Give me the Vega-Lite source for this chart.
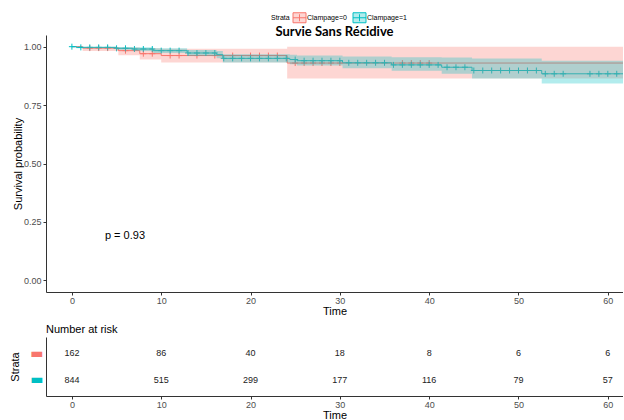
{
  "$schema": "https://vega.github.io/schema/vega-lite/v6.json",
  "padding": {"left": 9, "top": 12, "right": 0, "bottom": 0},
  "background": "white",
  "spacing": 8,
  "config": {
    "view": {"stroke": null},
    "font": "Liberation Sans",
    "axis": {"grid": false, "domainColor": "#333333", "tickColor": "#333333", "labelColor": "#4d4d4d", "labelFontSize": 9, "titleFontSize": 11, "titleFontWeight": "normal", "titleColor": "#000000", "tickSize": 3, "labelPadding": 2, "domainWidth": 1},
    "axisX": {"labelPadding": 1, "titlePadding": 0}
  },
  "datasets": {
    "km": [
      {"strata": "Clampage=0", "time": 0, "surv": 1.0, "lower": 1.0, "upper": 1.0},
      {"strata": "Clampage=0", "time": 1.2, "surv": 0.994, "lower": 0.982, "upper": 0.999},
      {"strata": "Clampage=0", "time": 5.2, "surv": 0.983, "lower": 0.963, "upper": 0.996},
      {"strata": "Clampage=0", "time": 7.6, "surv": 0.970, "lower": 0.945, "upper": 0.993},
      {"strata": "Clampage=0", "time": 10, "surv": 0.962, "lower": 0.932, "upper": 0.991},
      {"strata": "Clampage=0", "time": 24.1, "surv": 0.930, "lower": 0.864, "upper": 1.0},
      {"strata": "Clampage=0", "time": 62, "surv": 0.930, "lower": 0.864, "upper": 1.0},
      {"strata": "Clampage=1", "time": 0, "surv": 1.0, "lower": 1.0, "upper": 1.0},
      {"strata": "Clampage=1", "time": 0.5, "surv": 0.997, "lower": 0.993, "upper": 1.0},
      {"strata": "Clampage=1", "time": 5, "surv": 0.993, "lower": 0.987, "upper": 0.999},
      {"strata": "Clampage=1", "time": 6.8, "surv": 0.990, "lower": 0.982, "upper": 0.998},
      {"strata": "Clampage=1", "time": 9.1, "surv": 0.983, "lower": 0.973, "upper": 0.993},
      {"strata": "Clampage=1", "time": 12.9, "surv": 0.973, "lower": 0.960, "upper": 0.986},
      {"strata": "Clampage=1", "time": 16.2, "surv": 0.966, "lower": 0.951, "upper": 0.981},
      {"strata": "Clampage=1", "time": 16.9, "surv": 0.950, "lower": 0.932, "upper": 0.968},
      {"strata": "Clampage=1", "time": 24.4, "surv": 0.945, "lower": 0.925, "upper": 0.965},
      {"strata": "Clampage=1", "time": 25.2, "surv": 0.940, "lower": 0.919, "upper": 0.962},
      {"strata": "Clampage=1", "time": 30.3, "surv": 0.931, "lower": 0.908, "upper": 0.958},
      {"strata": "Clampage=1", "time": 35.8, "surv": 0.922, "lower": 0.897, "upper": 0.955},
      {"strata": "Clampage=1", "time": 41.4, "surv": 0.912, "lower": 0.884, "upper": 0.954},
      {"strata": "Clampage=1", "time": 44.8, "surv": 0.898, "lower": 0.864, "upper": 0.949},
      {"strata": "Clampage=1", "time": 52.6, "surv": 0.884, "lower": 0.842, "upper": 0.940},
      {"strata": "Clampage=1", "time": 62, "surv": 0.884, "lower": 0.842, "upper": 0.940}
    ],
    "censor": [
      {"strata": "Clampage=0", "time": 2, "surv": 0.994},
      {"strata": "Clampage=0", "time": 3, "surv": 0.994},
      {"strata": "Clampage=0", "time": 4, "surv": 0.994},
      {"strata": "Clampage=0", "time": 6, "surv": 0.983},
      {"strata": "Clampage=0", "time": 8, "surv": 0.970},
      {"strata": "Clampage=0", "time": 9, "surv": 0.970},
      {"strata": "Clampage=0", "time": 11, "surv": 0.962},
      {"strata": "Clampage=0", "time": 12, "surv": 0.962},
      {"strata": "Clampage=0", "time": 14, "surv": 0.962},
      {"strata": "Clampage=0", "time": 16, "surv": 0.962},
      {"strata": "Clampage=0", "time": 18, "surv": 0.962},
      {"strata": "Clampage=0", "time": 20, "surv": 0.962},
      {"strata": "Clampage=0", "time": 21, "surv": 0.962},
      {"strata": "Clampage=0", "time": 22, "surv": 0.962},
      {"strata": "Clampage=0", "time": 23, "surv": 0.962},
      {"strata": "Clampage=0", "time": 25, "surv": 0.930},
      {"strata": "Clampage=0", "time": 26, "surv": 0.930},
      {"strata": "Clampage=0", "time": 27, "surv": 0.930},
      {"strata": "Clampage=0", "time": 28, "surv": 0.930},
      {"strata": "Clampage=0", "time": 29, "surv": 0.930},
      {"strata": "Clampage=0", "time": 30, "surv": 0.930},
      {"strata": "Clampage=0", "time": 37, "surv": 0.930},
      {"strata": "Clampage=0", "time": 38, "surv": 0.930},
      {"strata": "Clampage=0", "time": 39, "surv": 0.930},
      {"strata": "Clampage=0", "time": 40, "surv": 0.930},
      {"strata": "Clampage=1", "time": 0, "surv": 1.0},
      {"strata": "Clampage=1", "time": 1, "surv": 0.997},
      {"strata": "Clampage=1", "time": 2, "surv": 0.997},
      {"strata": "Clampage=1", "time": 3, "surv": 0.997},
      {"strata": "Clampage=1", "time": 4, "surv": 0.997},
      {"strata": "Clampage=1", "time": 5, "surv": 0.993},
      {"strata": "Clampage=1", "time": 6, "surv": 0.993},
      {"strata": "Clampage=1", "time": 7, "surv": 0.990},
      {"strata": "Clampage=1", "time": 8, "surv": 0.990},
      {"strata": "Clampage=1", "time": 9, "surv": 0.990},
      {"strata": "Clampage=1", "time": 10, "surv": 0.983},
      {"strata": "Clampage=1", "time": 11, "surv": 0.983},
      {"strata": "Clampage=1", "time": 12, "surv": 0.983},
      {"strata": "Clampage=1", "time": 13, "surv": 0.973},
      {"strata": "Clampage=1", "time": 14, "surv": 0.973},
      {"strata": "Clampage=1", "time": 15, "surv": 0.973},
      {"strata": "Clampage=1", "time": 16, "surv": 0.973},
      {"strata": "Clampage=1", "time": 17, "surv": 0.950},
      {"strata": "Clampage=1", "time": 18, "surv": 0.950},
      {"strata": "Clampage=1", "time": 19, "surv": 0.950},
      {"strata": "Clampage=1", "time": 20, "surv": 0.950},
      {"strata": "Clampage=1", "time": 21, "surv": 0.950},
      {"strata": "Clampage=1", "time": 22, "surv": 0.950},
      {"strata": "Clampage=1", "time": 23, "surv": 0.950},
      {"strata": "Clampage=1", "time": 24, "surv": 0.950},
      {"strata": "Clampage=1", "time": 25, "surv": 0.945},
      {"strata": "Clampage=1", "time": 26, "surv": 0.940},
      {"strata": "Clampage=1", "time": 27, "surv": 0.940},
      {"strata": "Clampage=1", "time": 28, "surv": 0.940},
      {"strata": "Clampage=1", "time": 29, "surv": 0.940},
      {"strata": "Clampage=1", "time": 30, "surv": 0.940},
      {"strata": "Clampage=1", "time": 31, "surv": 0.931},
      {"strata": "Clampage=1", "time": 32, "surv": 0.931},
      {"strata": "Clampage=1", "time": 33, "surv": 0.931},
      {"strata": "Clampage=1", "time": 34, "surv": 0.931},
      {"strata": "Clampage=1", "time": 35, "surv": 0.931},
      {"strata": "Clampage=1", "time": 36, "surv": 0.922},
      {"strata": "Clampage=1", "time": 37, "surv": 0.922},
      {"strata": "Clampage=1", "time": 38, "surv": 0.922},
      {"strata": "Clampage=1", "time": 39, "surv": 0.922},
      {"strata": "Clampage=1", "time": 40, "surv": 0.922},
      {"strata": "Clampage=1", "time": 41, "surv": 0.922},
      {"strata": "Clampage=1", "time": 42, "surv": 0.912},
      {"strata": "Clampage=1", "time": 43, "surv": 0.912},
      {"strata": "Clampage=1", "time": 44, "surv": 0.912},
      {"strata": "Clampage=1", "time": 45, "surv": 0.898},
      {"strata": "Clampage=1", "time": 46, "surv": 0.898},
      {"strata": "Clampage=1", "time": 47, "surv": 0.898},
      {"strata": "Clampage=1", "time": 48, "surv": 0.898},
      {"strata": "Clampage=1", "time": 49, "surv": 0.898},
      {"strata": "Clampage=1", "time": 50, "surv": 0.898},
      {"strata": "Clampage=1", "time": 51, "surv": 0.898},
      {"strata": "Clampage=1", "time": 52, "surv": 0.898},
      {"strata": "Clampage=1", "time": 53, "surv": 0.884},
      {"strata": "Clampage=1", "time": 54, "surv": 0.884},
      {"strata": "Clampage=1", "time": 55, "surv": 0.884},
      {"strata": "Clampage=1", "time": 58, "surv": 0.884},
      {"strata": "Clampage=1", "time": 59, "surv": 0.884},
      {"strata": "Clampage=1", "time": 60, "surv": 0.884},
      {"strata": "Clampage=1", "time": 61, "surv": 0.884}
    ],
    "risk": [
      {"strata": "Clampage=0", "time": 0, "n": 162},
      {"strata": "Clampage=0", "time": 10, "n": 86},
      {"strata": "Clampage=0", "time": 20, "n": 40},
      {"strata": "Clampage=0", "time": 30, "n": 18},
      {"strata": "Clampage=0", "time": 40, "n": 8},
      {"strata": "Clampage=0", "time": 50, "n": 6},
      {"strata": "Clampage=0", "time": 60, "n": 6},
      {"strata": "Clampage=1", "time": 0, "n": 844},
      {"strata": "Clampage=1", "time": 10, "n": 515},
      {"strata": "Clampage=1", "time": 20, "n": 299},
      {"strata": "Clampage=1", "time": 30, "n": 177},
      {"strata": "Clampage=1", "time": 40, "n": 116},
      {"strata": "Clampage=1", "time": 50, "n": 79},
      {"strata": "Clampage=1", "time": 60, "n": 57}
    ],
    "pval": [
      {"label": "p = 0.93"}
    ]
  },
  "vconcat": [
    {
      "width": 577,
      "height": 257,
      "title": {"text": "Survie Sans Récidive", "font": "Lato", "fontSize": 13, "fontWeight": "bold", "color": "#000000", "anchor": "middle", "offset": -4},
      "layer": [
        {"data": {"name": "km"}, "mark": {"type": "line", "interpolate": "step-after", "strokeWidth": 1, "clip": true},
          "encoding": {
            "x": {"field": "time", "type": "quantitative", "scale": {"domain": [-2.9, 61.7], "nice": false, "zero": false}, "axis": {"values": [0, 10, 20, 30, 40, 50, 60], "title": "Time"}},
            "y": {"field": "surv", "type": "quantitative", "scale": {"domain": [-0.05, 1.05], "nice": false, "zero": false}, "axis": {"values": [0, 0.25, 0.5, 0.75, 1], "format": ".2f", "title": "Survival probability", "titlePadding": 0}},
            "stroke": {"field": "strata", "type": "nominal", "scale": {"domain": ["Clampage=0", "Clampage=1"], "range": ["#F8766D", "#00BFC4"]},
              "legend": {"orient": "none", "legendX": 225, "legendY": -23, "direction": "horizontal", "title": "Strata", "titleOrient": "left", "titleFontSize": 7, "titleFontWeight": "normal", "titleColor": "#000000", "titlePadding": 4, "labelFontSize": 7, "labelColor": "#000000", "labelOffset": 2, "columnPadding": 4,
                "symbolType": "M-1.3,-1H1.3V1H-1.3ZM-1.3,0H1.3M0,-0.7V0.7", "symbolSize": 100, "symbolStrokeWidth": 1,
                "encode": {"symbols": {"update": {"fillOpacity": {"value": 0.3}, "strokeOpacity": {"value": 1}}}}}}
          }},
        {"data": {"name": "censor"}, "mark": {"type": "point", "shape": "M-1,0H1M0,-1V1", "filled": false, "size": 36, "strokeWidth": 1, "opacity": 1, "clip": true},
          "encoding": {
            "x": {"field": "time", "type": "quantitative"},
            "y": {"field": "surv", "type": "quantitative"},
            "stroke": {"field": "strata", "type": "nominal"}
          }},
        {"data": {"name": "km"}, "mark": {"type": "area", "interpolate": "step-after", "fillOpacity": 0.3, "clip": true},
          "encoding": {
            "x": {"field": "time", "type": "quantitative"},
            "y": {"field": "lower", "type": "quantitative"},
            "y2": {"field": "upper"},
            "fill": {"field": "strata", "type": "nominal", "scale": {"domain": ["Clampage=0", "Clampage=1"], "range": ["#F8766D", "#00BFC4"]},
              "legend": {"orient": "none", "legendX": 225, "legendY": -23, "direction": "horizontal", "title": "Strata", "titleOrient": "left", "titleFontSize": 7, "titleFontWeight": "normal", "titleColor": "#000000", "titlePadding": 4, "labelFontSize": 7, "labelColor": "#000000", "labelOffset": 2, "columnPadding": 4,
                "symbolType": "M-1.3,-1H1.3V1H-1.3ZM-1.3,0H1.3M0,-0.7V0.7", "symbolSize": 100, "symbolStrokeWidth": 1,
                "encode": {"symbols": {"update": {"fillOpacity": {"value": 0.3}, "strokeOpacity": {"value": 1}}}}}}
          }},
        {"data": {"name": "pval"}, "mark": {"type": "text", "align": "left", "baseline": "middle", "fontSize": 11, "fill": "#000000"},
          "encoding": {
            "x": {"datum": 3.7},
            "y": {"datum": 0.19},
            "text": {"field": "label", "type": "nominal"}
          }}
      ]
    },
    {
      "width": 577,
      "height": 59,
      "title": {"text": "Number at risk", "anchor": "start", "frame": "group", "fontSize": 11, "fontWeight": "normal", "font": "Liberation Sans", "color": "#000000", "offset": 2},
      "data": {"name": "risk"},
      "mark": {"type": "text", "fontSize": 9, "color": "#222222"},
      "encoding": {
        "x": {"field": "time", "type": "quantitative", "scale": {"domain": [-2.9, 61.7], "nice": false, "zero": false}, "axis": {"values": [0, 10, 20, 30, 40, 50, 60], "title": "Time"}},
        "y": {"field": "strata", "type": "nominal", "scale": {"type": "point", "padding": 0.6, "domain": ["Clampage=0", "Clampage=1"]},
          "axis": {"title": "Strata", "ticks": false, "labelExpr": "'▬'", "labelColor": {"expr": "datum.value == 'Clampage=0' ? '#F8766D' : '#00BFC4'"}, "labelFont": "DejaVu Sans", "labelFontSize": 14, "labelPadding": 3, "titlePadding": 9}},
        "text": {"field": "n", "type": "quantitative"}
      }
    }
  ]
}
